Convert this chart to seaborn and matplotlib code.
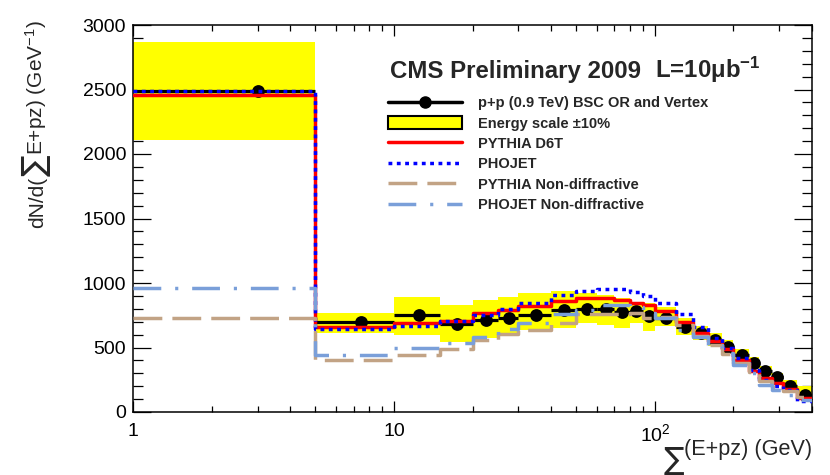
import numpy as np
import pandas as pd
import seaborn as sns
import matplotlib.pyplot as plt
from matplotlib.lines import Line2D
from matplotlib.patches import Patch
from matplotlib.ticker import FixedLocator, FixedFormatter, NullFormatter, LogLocator, MultipleLocator

# bins in sum(E+pz) (GeV)
bin_edges = [1, 5, 10, 15, 20, 25, 30, 40, 50, 60, 70, 80, 90, 100,
             120, 140, 160, 180, 200, 230, 250, 280, 310, 350, 400]

# measured data (p+p 0.9 TeV)
data_vals = [2490, 700, 750, 685, 715, 730, 755, 790, 800, 795, 775, 780, 745,
             725, 658, 610, 558, 505, 442, 381, 320, 268, 205, 135]

# energy scale +-10% band
band_low = [2110, 610, 600, 540, 575, 600, 632, 650, 690, 675, 650, 690, 625,
            670, 600, 560, 510, 455, 395, 340, 285, 235, 180, 105]
band_high = [2870, 770, 890, 830, 870, 892, 920, 940, 920, 905, 885, 855, 845,
             815, 725, 670, 610, 555, 490, 425, 355, 300, 250, 200]

# MC predictions
pythia_d6t = [2455, 660, 690, 705, 765, 788, 818, 863, 881, 881, 868, 847, 829,
              785, 700, 615, 553, 486, 403, 320, 261, 222, 176, 111]
phojet = [2491, 641, 669, 703, 750, 798, 842, 907, 938, 953, 953, 928, 901,
          842, 760, 661, 571, 494, 416, 326, 248, 202, 171, 85]
pythia_nd = [726, 403, 442, 486, 558, 605, 636, 690, 757, 757, 757, 765, 731,
             735, 674, 589, 519, 450, 377, 310, 240, 190, 165, 119]
phojet_nd = [960, 445, 494, 537, 584, 640, 692, 762, 791, 826, 829, 811, 765,
             729, 636, 584, 519, 455, 364, 300, 209, 171, 132, 93]

sns.set_theme(style="ticks")
plt.rcParams['font.family'] = ['Liberation Sans', 'DejaVu Sans']
plt.rcParams['mathtext.fontset'] = 'custom'
plt.rcParams['mathtext.rm'] = 'Liberation Sans'
plt.rcParams['mathtext.it'] = 'Liberation Sans:italic'
plt.rcParams['mathtext.bf'] = 'Liberation Sans:bold'

W, H = 830, 475
fig = plt.figure(figsize=(W / 100, H / 100), dpi=100)
fig.patch.set_facecolor('white')
ax = fig.add_axes([133 / W, 63 / H, 679 / W, 387 / H])
ax.set_facecolor('white')
ax.set_xscale('log')

edges = np.array(bin_edges, dtype=float)
centers = (edges[:-1] + edges[1:]) / 2


def step_y(vals):
    return list(vals) + [vals[-1]]


# yellow band
ax.fill_between(edges, step_y(band_low), step_y(band_high), step='post',
                color='#ffff00', lw=0, zorder=1)

# data
ax.errorbar(centers, data_vals, xerr=[centers - edges[:-1], edges[1:] - centers],
            fmt='none', ecolor='black', elinewidth=2.3, capsize=0, zorder=2)
sns.scatterplot(x=centers, y=data_vals, color='black', s=85, edgecolor='black',
                linewidth=0, zorder=2.5, ax=ax, legend=False)

lw = 2.5
red = '#ff0000'
blue = '#0000ff'
tan = '#c2a385'
lblue = '#7a9fd9'
styles = [
    (pythia_d6t, red, '-'),
    (phojet, blue, (0, (1.1, 1.3))),
    (pythia_nd, tan, (0, (8.3, 2.9))),
    (phojet_nd, lblue, (0, (8, 4, 0.9, 4))),
]
for k, (vals, col, ls) in enumerate(styles):
    sns.lineplot(x=edges, y=step_y(vals), drawstyle='steps-post', estimator=None,
                 sort=False, color=col, lw=lw, linestyle=ls, ax=ax, zorder=3 + k)

ax.set_xlim(1, 400)
ax.set_ylim(0, 3000)

ax.xaxis.set_major_locator(FixedLocator([1, 10, 100]))
ax.xaxis.set_major_formatter(FixedFormatter(['1', '10', '$10^2$']))
ax.xaxis.set_minor_locator(LogLocator(base=10, subs=np.arange(2, 10)))
ax.xaxis.set_minor_formatter(NullFormatter())
ax.yaxis.set_major_locator(MultipleLocator(500))
ax.yaxis.set_minor_locator(MultipleLocator(100))

ax.tick_params(which='both', direction='in', top=True, right=True, width=0.9,
               colors='black', labelsize=14)
ax.tick_params(axis='x', which='major', length=8, pad=8)
ax.tick_params(axis='x', which='minor', length=4.5)
ax.tick_params(axis='y', which='major', length=13, pad=5)
ax.tick_params(axis='y', which='minor', length=7)
for sp in ax.spines.values():
    sp.set_linewidth(1.1)
    sp.set_color('black')
ax.set_xlabel('')
ax.set_ylabel('')

# header
ax.text(0.3785, 0.863, 'CMS Preliminary 2009', transform=ax.transAxes,
        fontsize=17.3, fontweight='bold', ha='left', va='baseline')
ax.text(0.769, 0.863, 'L=10μb$^{\\mathbf{-1}}$', transform=ax.transAxes,
        fontsize=17.3, fontweight='bold', ha='left', va='baseline')

# legend
handles = [
    Line2D([], [], color='black', lw=2.5, marker='o', ms=8),
    Patch(facecolor='#ffff00', edgecolor='black', lw=1.5),
    Line2D([], [], color=red, lw=lw, linestyle='-'),
    Line2D([], [], color=blue, lw=lw, linestyle=(0, (1.1, 1.3))),
    Line2D([], [], color=tan, lw=lw, linestyle=(0, (8.3, 2.9))),
    Line2D([], [], color=lblue, lw=lw, linestyle=(0, (8, 4, 0.9, 4))),
]
labels = ['p+p (0.9 TeV) BSC OR and Vertex', 'Energy scale ±10%', 'PYTHIA D6T',
          'PHOJET', 'PYTHIA Non-diffractive', 'PHOJET Non-diffractive']
ax.legend(handles, labels, loc='upper left', bbox_to_anchor=(0.3756, 0.8165),
          frameon=False, handlelength=5.1, handleheight=0.94, handletextpad=1.1,
          labelspacing=0.42, borderpad=0, borderaxespad=0,
          prop={'weight': 'bold', 'size': 10.5})

# x title: big sigma + (E+pz) (GeV), right aligned
tx = fig.text(812 / W, 1 - 455 / H, '(E+pz) (GeV)', ha='right', va='baseline',
              fontsize=15.6)
fig.canvas.draw()
bbx = tx.get_window_extent()
fig.text(bbx.x0 / W, 1 - 475 / H, '∑', ha='right', va='bottom', fontsize=22,
         family=['DejaVu Sans'])

# y title: dN/d( big sigma E+pz) (GeV^-1), rotated, top aligned
xb = 43 / W
ty3 = fig.text(xb, 1 - 20 / H, 'E+pz) (GeV$^{-1}$)', rotation=90,
               rotation_mode='anchor', ha='right', va='baseline', fontsize=15)
fig.canvas.draw()
bb3 = ty3.get_window_extent()
ty2 = fig.text(xb + 2 / W, bb3.y0 / H, '∑', rotation=90, rotation_mode='anchor',
               ha='right', va='baseline', fontsize=23, family=['DejaVu Sans'])
fig.canvas.draw()
bb2 = ty2.get_window_extent()
fig.text(xb, bb2.y0 / H, 'dN/d(', rotation=90, rotation_mode='anchor',
         ha='right', va='baseline', fontsize=15)

fig.savefig('out.png', dpi=100)
